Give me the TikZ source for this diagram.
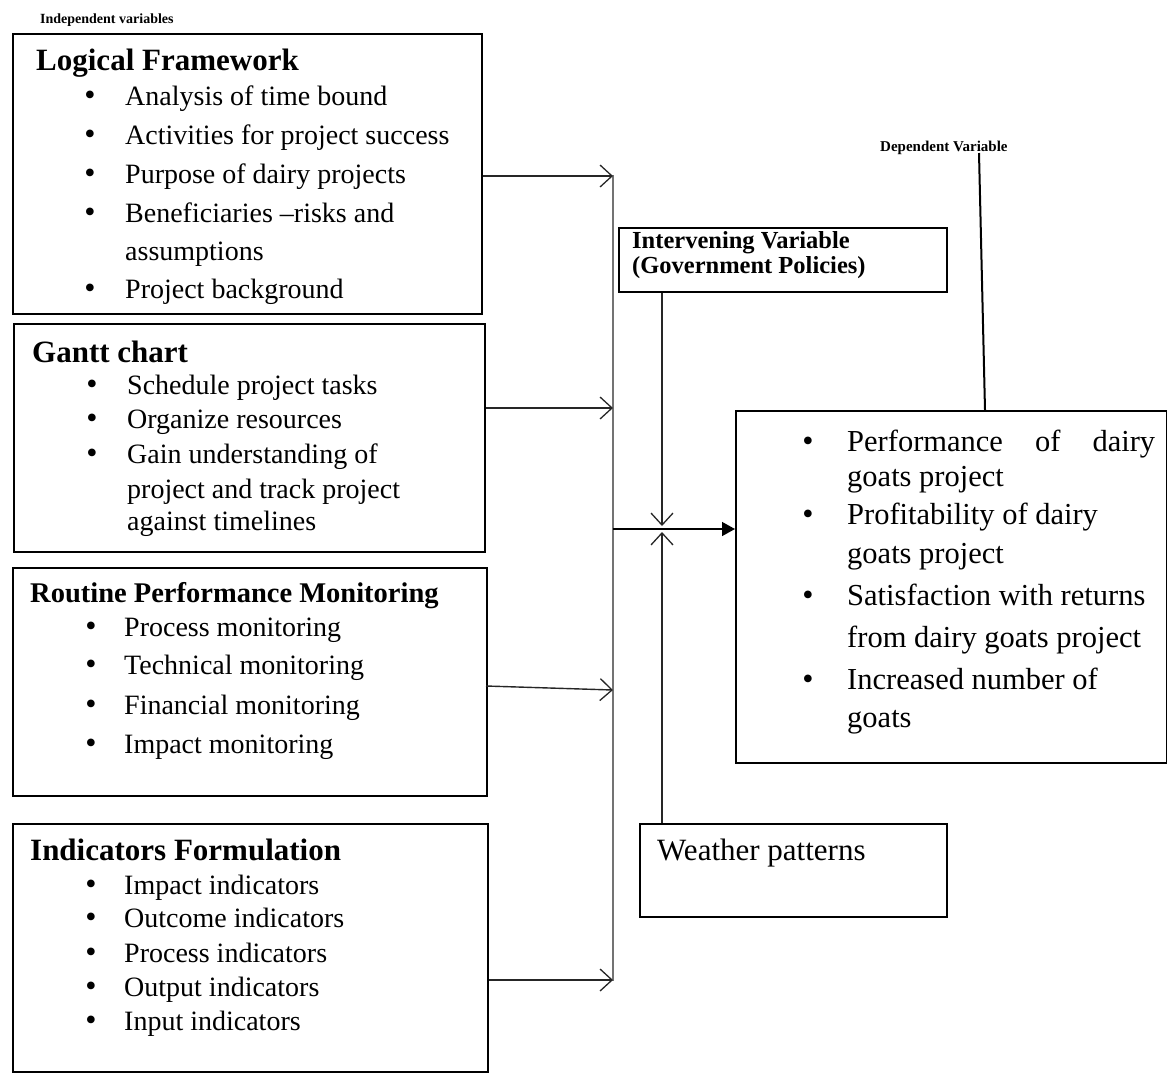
\documentclass[tikz,border=0pt]{standalone}
\usepackage{fontspec}
\setmainfont{Liberation Serif}
\usetikzlibrary{arrows.meta}
\begin{document}
\begin{tikzpicture}[x=1pt,y=-1pt,
  box/.style={draw=black,line width=1.6pt,anchor=north west,inner sep=0pt},
  ttl/.style={anchor=base west,inner sep=0pt,font=\fontsize{31}{34}\selectfont\bfseries},
  itm/.style={anchor=base west,inner sep=0pt,font=\fontsize{28}{32}\selectfont},
  bul/.style={anchor=base,inner sep=0pt,font=\fontsize{32}{32}\selectfont},
  dep/.style={anchor=base west,inner sep=0pt,font=\fontsize{30.5}{34}\selectfont},
  dbul/.style={anchor=base,inner sep=0pt,font=\fontsize{32}{34}\selectfont},
  lbl/.style={anchor=base west,inner sep=0pt,font=\fontsize{15}{17}\selectfont\bfseries},
  conn/.style={line width=1.4pt,draw=black!85,-{Straight Barb[length=12pt,width=22pt,line width=1.3pt]}},
  spine/.style={line width=2.4pt,draw=black!55}]
\useasboundingbox (0,0) rectangle (1167,1072);

% labels
\node[lbl,font=\fontsize{14}{16}\selectfont\bfseries] (indlbl) at (40,23) {Independent variables};
\node[lbl] (deplbl) at (880,151) {Dependent Variable};

% Box 1
\node[box,minimum width=469pt,minimum height=280pt] (lf) at (12,33) {};
\node[ttl] (lft) at (36,70) {Logical Framework};
\foreach \y/\t [count=\i] in {105/Analysis of time bound,144/Activities for project success,183/Purpose of dairy projects,222/Beneficiaries --risks and,298/Project background}{
  \node[bul] (lfb\i) at (90,\y) {\textbullet};
  \node[itm] (lfi\i) at (125,\y) {\t};}
\node[itm] (lfc) at (125,260) {assumptions};

% Box 2
\node[box,minimum width=471pt,minimum height=228pt] (gc) at (13,323) {};
\node[ttl] (gct) at (32,362) {Gantt chart};
\foreach \y/\t [count=\i] in {394/Schedule project tasks,428/Organize resources,463/Gain understanding of}{
  \node[bul] (gcb\i) at (92,\y) {\textbullet};
  \node[itm] (gci\i) at (127,\y) {\t};}
\node[itm] (gcc1) at (127,498) {project and track project};
\node[itm] (gcc2) at (127,530) {against timelines};

% Box 3
\node[box,minimum width=474pt,minimum height=228pt] (rp) at (12,567) {};
\node[ttl,font=\fontsize{28.5}{32}\selectfont\bfseries] (rpt) at (30,602) {Routine Performance Monitoring};
\foreach \y/\t [count=\i] in {636/Process monitoring,674/Technical monitoring,714/Financial monitoring,753/Impact monitoring}{
  \node[bul] (rpb\i) at (91,\y) {\textbullet};
  \node[itm] (rpi\i) at (124,\y) {\t};}

% Box 4
\node[box,minimum width=475pt,minimum height=248pt] (ind) at (12,823) {};
\node[ttl] (indt) at (30,860) {Indicators Formulation};
\foreach \y/\t [count=\i] in {894/Impact indicators,927/Outcome indicators,962/Process indicators,996/Output indicators,1030/Input indicators}{
  \node[bul] (indb\i) at (91,\y) {\textbullet};
  \node[itm] (indi\i) at (124,\y) {\t};}

% Intervening
\node[box,minimum width=328pt,minimum height=64pt] (iv) at (618,227) {};
\node[anchor=base west,inner sep=0pt,font=\fontsize{24.5}{26}\selectfont\bfseries] (ivt1) at (632,248) {Intervening Variable};
\node[anchor=base west,inner sep=0pt,font=\fontsize{24.5}{26}\selectfont\bfseries] (ivt2) at (632,273) {(Government Policies)};

% Weather
\node[box,minimum width=307pt,minimum height=93pt] (wp) at (639,823) {};
\node[dep,font=\fontsize{31}{34}\selectfont] (wpt) at (657,860) {Weather patterns};

% Dependent
\node[box,minimum width=431pt,minimum height=352pt] (dv) at (735,410) {};
\node[dbul] (dvb1) at (808,451) {\textbullet};
\node[dep] (dvi1) at (847,451) {\makebox[308pt][s]{Performance of dairy}};
\node[dep] (dvc1) at (847,486) {goats project};
\node[dbul] (dvb2) at (808,524) {\textbullet};
\node[dep] (dvi2) at (847,524) {Profitability of dairy};
\node[dep] (dvc2) at (847,563) {goats project};
\node[dbul] (dvb3) at (808,605) {\textbullet};
\node[dep] (dvi3) at (847,605) {Satisfaction with returns};
\node[dep] (dvc3) at (847,647) {from dairy goats project};
\node[dbul] (dvb4) at (808,689) {\textbullet};
\node[dep] (dvi4) at (847,689) {Increased number of};
\node[dep] (dvc4) at (847,727) {goats};

% connectors
\coordinate (vtop) at (613,175);
\coordinate (vbot) at (613,981);
\coordinate (j1) at (613,176);
\coordinate (j2) at (613,408);
\coordinate (r3) at (486,686);
\coordinate (j3) at (613,690);
\coordinate (j4) at (613,980);
\coordinate (jc) at (613,529);
\coordinate (midu) at (662,526);
\coordinate (midd) at (662,532);
\coordinate (dtop) at (979,153);
\coordinate (dbot) at (985,410);

\draw[spine] (vtop) -- (vbot);
\draw[conn] (lf.east |- j1) -- (j1);
\draw[conn] (gc.east |- j2) -- (j2);
\draw[conn] (r3) -- (j3);
\draw[conn] (ind.east |- j4) -- (j4);
\draw[line width=1.5pt,-{Triangle[length=13pt,width=14pt]}] (jc) -- (dv.west |- jc);
\draw[conn] (iv.south -| midu) -- (midu);
\draw[conn] (wp.north -| midd) -- (midd);
\draw[line width=2pt] (dtop) -- (dbot);
\end{tikzpicture}
\end{document}
